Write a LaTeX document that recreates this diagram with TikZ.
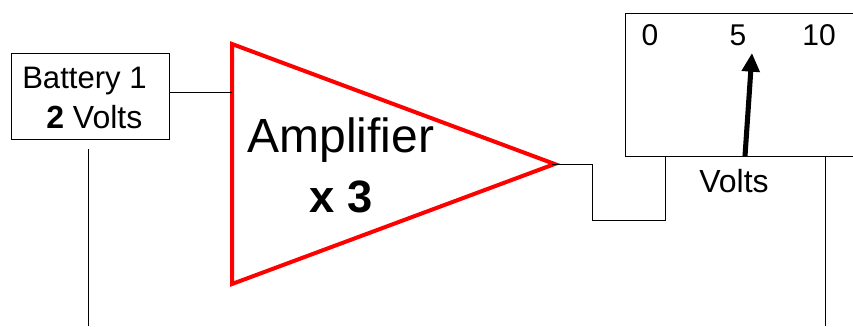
\documentclass[tikz,border=0pt]{standalone}
\usepackage{fontspec}
\setmainfont{Liberation Sans}
\usetikzlibrary{shapes.geometric, arrows.meta, positioning, calc}

\begin{document}
\begin{tikzpicture}[
  x=0.75pt, y=-0.75pt,
  box/.style={rectangle, draw=black, line width=0.75pt, inner sep=0pt},
  amp/.style={isosceles triangle, isosceles triangle apex angle=40.8,
    isosceles triangle stretches, draw=red, line width=3pt,
    minimum width=180pt, minimum height=242pt, inner sep=0pt},
  wire/.style={draw=black, line width=0.6pt},
  needle/.style={-{Triangle[length=14pt, width=13pt]}, line width=3.8pt},
  label/.style={font=\fontsize{22.5}{29.6}\selectfont, inner sep=0pt}
]
\useasboundingbox (0,0) rectangle (853,326);
\clip (0,0) rectangle (853,326);

\node (battery) [box, minimum width=118.5pt, minimum height=65pt] at (90,96.5) {};
\node (batteryname) [font=\fontsize{23.3}{23.3}\selectfont, inner sep=0pt, anchor=base west] at (22,88) {Battery 1};
\node (batteryvolts) [font=\fontsize{24}{24}\selectfont, inner sep=0pt, anchor=base west] at (46,128) {\textbf{2} Volts};
\node (amplifier) [amp, anchor=lower side] at (230,164) {};
\node (ampname) [font=\fontsize{36}{36}\selectfont, inner sep=0pt] at (341,140) {Amplifier};
\node (ampgain) [font=\bfseries\fontsize{34}{34}\selectfont, inner sep=0pt] at (341,197) {x 3};
\node (meter) [box, minimum width=187pt, minimum height=107pt, anchor=north west] at (624.5,13) {};

\node (zero) [label] at (650,35) {0};
\node (five) [label] at (738,35) {5};
\node (ten)  [label] at (819,35) {10};
\node (volts) [font=\fontsize{24}{24}\selectfont, inner sep=0pt] at (734,181) {Volts};

\coordinate (needlefoot) at (745,156);
\coordinate (needletip) at (752,53);
\coordinate (leftend) at (88,326);
\coordinate (lefttop) at (88,149);
\coordinate (rightend) at (825,326);
\coordinate (righttop) at (825,156);
\coordinate (meterin) at (665,156);

\draw[wire] (battery.east |- 0,92) -- (232,92);
\draw[wire] ([xshift=-6pt]amplifier.apex) -- (592,164) -- (592,220) -- (665,220) -- (meterin);
\draw[wire] (lefttop) -- (leftend);
\draw[wire] (righttop) -- (rightend);

\draw[needle] (needlefoot) -- (needletip);

\end{tikzpicture}
\end{document}
